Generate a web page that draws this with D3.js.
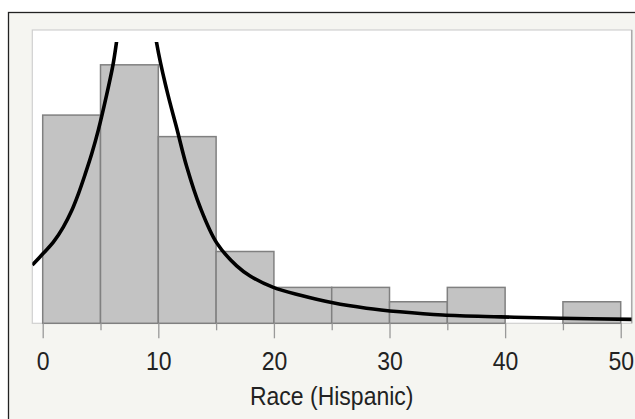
<!DOCTYPE html>
<html>
<head>
<meta charset="utf-8">
<script src="https://cdn.jsdelivr.net/npm/d3@7"></script>
<style>
  body { margin: 0; background: #fff; }
  svg { display: block; }
  text { font-family: "Liberation Sans", Arial, sans-serif; fill: #222; }
</style>
</head>
<body>
<svg width="635" height="419"></svg>
<script>
// histogram bins (left edges) and counts
var binStarts = [0, 5, 10, 15, 20, 25, 30, 35, 40, 45];
var binWidth = 5;
var counts = [29, 36, 26, 10, 5, 5, 3, 5, 0, 3];

// fitted curve (peak is cut off at the top)
var curveX = [-0.9, 0.05, 0.92, 1.78, 2.51, 3.08, 3.66, 4.24, 4.81, 5.5, 6.08, 6.37, 8.1, 9.86, 10.73, 11.59, 12.46, 13.61, 15.05, 16.78, 17.94, 19.95, 22.3, 25.1, 28.0, 30.9, 34.6, 39.6, 44.8, 50.95];
var curveY = [8.1, 9.75, 11.3, 13.4, 15.7, 18.0, 20.7, 23.6, 26.9, 31.6, 36.0, 39.0, 60, 39.0, 32.5, 27.2, 21.8, 16.2, 11.2, 8.0, 6.6, 5.0, 3.9, 2.85, 2.1, 1.6, 1.15, 0.9, 0.7, 0.55];

var majorTicks = [0, 10, 20, 30, 40, 50];
var minorTicks = [5, 15, 25, 35, 45];
var xTitle = "Race (Hispanic)";

var svg = d3.select("svg");

var plot = { left: 32.3, top: 30, right: 631.7, bottom: 323.3 };

var x = d3.scaleLinear().domain([-0.9, 50.95]).range([plot.left, plot.right]);
var y = d3.scaleLinear().domain([0, 40.85]).range([plot.bottom, plot.top]);

// outer frame
svg.append("rect")
    .attr("x", 8.5).attr("y", 12.5)
    .attr("width", 640).attr("height", 420)
    .attr("fill", "#f5f5f1")
    .attr("stroke", "#222")
    .attr("stroke-width", 1.3);

// plot area
svg.append("rect")
    .attr("x", plot.left).attr("y", plot.top)
    .attr("width", plot.right - plot.left)
    .attr("height", plot.bottom - plot.top)
    .attr("fill", "#fff")
    .attr("stroke", "#d0d0d0")
    .attr("stroke-width", 1.2);

svg.append("line")
    .attr("x1", plot.right).attr("x2", plot.right)
    .attr("y1", plot.top).attr("y2", plot.bottom)
    .attr("stroke", "#aaa")
    .attr("stroke-width", 1.5);

svg.append("defs").append("clipPath")
    .attr("id", "clip")
  .append("rect")
    .attr("x", plot.left).attr("y", plot.top + 12)
    .attr("width", plot.right - plot.left)
    .attr("height", plot.bottom - plot.top - 12);

// bars (empty bins are skipped)
var bins = counts.map(function(c, i) { return { x0: binStarts[i], x1: binStarts[i] + binWidth, n: c }; })
    .filter(function(d) { return d.n > 0; });

svg.append("g")
  .selectAll("rect")
  .data(bins)
  .enter().append("rect")
    .attr("x", function(d) { return x(d.x0); })
    .attr("y", function(d) { return y(d.n); })
    .attr("width", function(d) { return x(d.x1) - x(d.x0); })
    .attr("height", function(d) { return y(0) - y(d.n); })
    .attr("fill", "#c3c3c3")
    .attr("stroke", "#808080")
    .attr("stroke-width", 1.5);

// curve
var pts = curveX.map(function(v, i) { return [v, curveY[i]]; });
var line = d3.line()
    .x(function(d) { return x(d[0]); })
    .y(function(d) { return y(d[1]); })
    .curve(d3.curveCatmullRom.alpha(0.5));

svg.append("path")
    .datum(pts)
    .attr("clip-path", "url(#clip)")
    .attr("d", line)
    .attr("fill", "none")
    .attr("stroke", "#000")
    .attr("stroke-width", 3.6);

// axis
var gMajor = svg.append("g")
    .attr("transform", "translate(0," + plot.bottom + ")")
    .call(d3.axisBottom(x).tickValues(majorTicks).tickSize(15).tickFormat(d3.format("d")));
var gMinor = svg.append("g")
    .attr("transform", "translate(0," + plot.bottom + ")")
    .call(d3.axisBottom(x).tickValues(minorTicks).tickSize(7).tickFormat(""));

[gMajor, gMinor].forEach(function(g) {
  g.select(".domain").remove();
  g.selectAll(".tick line").attr("stroke", "#999").attr("stroke-width", 1.3);
});

gMajor.selectAll(".tick text")
    .attr("y", null).attr("dy", null)
    .attr("transform", "translate(0,47) scale(1,1.13)")
    .style("font-size", "23px")
    .attr("fill", "#222");

svg.append("text")
    .attr("transform", "translate(" + x(25) + ",405) scale(1,1.12)")
    .attr("text-anchor", "middle")
    .style("font-size", "23px")
    .text(xTitle);
</script>
</body>
</html>
